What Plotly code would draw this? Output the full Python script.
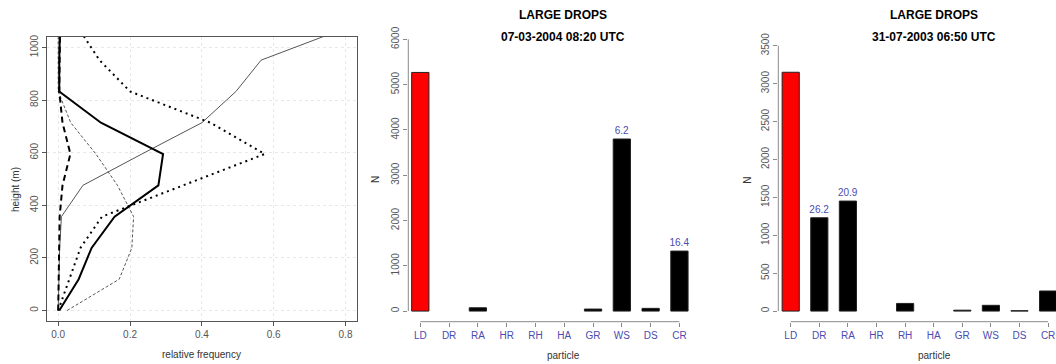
import plotly.graph_objects as go

W, H = 1056, 364

# ---------------- panel 1: vertical profiles ----------------
heights = [0, 119, 238, 357, 476, 595, 714, 833, 952, 1071]
freq_a = [0.003, 0.057, 0.093, 0.157, 0.279, 0.292, 0.119, 0.003, 0.003, 0.005]   # thick solid
freq_b = [0.0, 0.002, 0.004, 0.009, 0.069, 0.233, 0.400, 0.495, 0.565, 0.795]     # thin solid
freq_c = [0.0, 0.030, 0.062, 0.122, 0.350, 0.575, 0.424, 0.200, 0.115, 0.058]     # thick dotted
freq_d = [0.025, 0.170, 0.205, 0.210, 0.165, 0.105, 0.035, 0.0, 0.0, 0.0]         # thin dashed
freq_e = [0.0, 0.001, 0.002, 0.004, 0.012, 0.034, 0.012, 0.003, 0.004, 0.005]     # thick dashed
x_ticks1 = [0.0, 0.2, 0.4, 0.6, 0.8]
x_labels1 = ["0.0", "0.2", "0.4", "0.6", "0.8"]
y_ticks1 = [0, 200, 400, 600, 800, 1000]

# ---------------- panels 2 and 3: bar charts ----------------
particles = ["LD", "DR", "RA", "HR", "RH", "HA", "GR", "WS", "DS", "CR"]
n_2004 = [5270, 0, 73, 0, 0, 0, 45, 3800, 60, 1325]
pct_2004 = ["", "", "", "", "", "", "", "6.2", "", "16.4"]
n_2003 = [3150, 1231, 1451, 0, 101, 0, 12, 76, 5, 265]
pct_2003 = ["", "26.2", "20.9", "", "", "", "", "", "", ""]
y_ticks2 = [0, 1000, 2000, 3000, 4000, 5000, 6000]
y_ticks3 = [0, 500, 1000, 1500, 2000, 2500, 3000, 3500]
title_main = "LARGE DROPS"
title_2004 = "07-03-2004 08:20 UTC"
title_2003 = "31-07-2003 06:50 UTC"

FONT = "Liberation Sans, Arial, Helvetica, sans-serif"
BLUE = "#4b4bb0"
GREY = "#555555"
AX = "#8a8a8a"


def px(v):
    return v / W


def py(v):
    return 1 - v / H


fig = go.Figure()

profile_styles = [
    (freq_b, dict(color="#555555", width=1, dash="solid")),
    (freq_d, dict(color="#555555", width=1, dash="3px,2px")),
    (freq_c, dict(color="black", width=2, dash="2px,4px")),
    (freq_e, dict(color="black", width=2, dash="6px,4px")),
    (freq_a, dict(color="black", width=2, dash="solid")),
]
for vals, ln in profile_styles:
    fig.add_trace(go.Scatter(x=vals, y=heights, mode="lines", line=ln,
                             xaxis="x", yaxis="y", showlegend=False, hoverinfo="skip"))

bar_colors = ["red" if p == "LD" else "black" for p in particles]

for vals, pct, xa, ya in ((n_2004, pct_2004, "x2", "y2"), (n_2003, pct_2003, "x3", "y3")):
    fig.add_trace(go.Bar(x=particles, y=vals, width=0.6,
                         marker=dict(color=bar_colors,
                                     line=dict(color="#222", width=[1 if v > 0 else 0 for v in vals])),
                         text=pct, textposition="outside", cliponaxis=False, constraintext="none",
                         textfont=dict(color=BLUE, size=10, family=FONT),
                         xaxis=xa, yaxis=ya, showlegend=False, hoverinfo="skip"))

tickfont = dict(family=FONT, size=10, color=GREY)
common = dict(automargin=False, zeroline=False)

fig.update_layout(
    template="none",
    width=W, height=H, margin=dict(l=0, r=0, t=0, b=0, pad=0), autosize=False,
    paper_bgcolor="white", plot_bgcolor="white",
    font=dict(family=FONT, size=10, color="#333"),
    showlegend=False,
    xaxis=dict(domain=[px(46.7), px(357)], range=[-0.032, 0.832], tickvals=x_ticks1, ticktext=x_labels1,
               showline=True, mirror=True, linecolor="#555", linewidth=1,
               ticks="outside", ticklen=4, tickcolor="#555", tickfont=tickfont,
               showgrid=True, gridcolor="#e8e8e8", griddash="dot", gridwidth=1,
               anchor="y", **common),
    yaxis=dict(domain=[py(321), py(37)], range=[-40, 1040], tickvals=y_ticks1, tickangle=-90,
               showline=True, mirror=True, linecolor="#555", linewidth=1,
               ticks="outside", ticklen=4, tickcolor="#555", tickfont=tickfont,
               showgrid=True, gridcolor="#e8e8e8", griddash="dot", gridwidth=1,
               anchor="x", **common),
    xaxis2=dict(domain=[px(408.3), px(718.3)], type="category", range=[-0.417, 10.35],
                showline=False, showgrid=False,
                ticks="outside", ticklen=4, tickcolor=AX,
                tickfont=dict(family=FONT, size=10, color=BLUE), anchor="y2", **common),
    yaxis2=dict(domain=[py(321.7), py(35.1)], range=[-234.4, 6094.4], tickvals=y_ticks2, tickangle=-90,
                showline=False, showgrid=False,
                ticks="outside", ticklen=4, tickcolor=AX, tickfont=tickfont, anchor="x2", **common),
    xaxis3=dict(domain=[px(778.3), 1.0], type="category", range=[-0.434, 9.276],
                showline=False, showgrid=False,
                ticks="outside", ticklen=4, tickcolor=AX,
                tickfont=dict(family=FONT, size=10, color=BLUE), anchor="y3", **common),
    yaxis3=dict(domain=[py(321.7), py(35.1)], range=[-140, 3640], tickvals=y_ticks3, tickangle=-90,
                showline=False, showgrid=False,
                ticks="outside", ticklen=4, tickcolor=AX, tickfont=tickfont, anchor="x3", **common),
)

# R-style axis lines spanning only the tick range
shapes = []
for xa, ya, yt in (("x2", "y2", y_ticks2), ("x3", "y3", y_ticks3)):
    shapes.append(dict(type="line", xref=xa + " domain", yref=ya, x0=0, x1=0, y0=yt[0], y1=yt[-1],
                       line=dict(color=AX, width=1)))
    shapes.append(dict(type="line", xref=xa, yref=ya + " domain", x0=0, x1=len(particles) - 1, y0=0, y1=0,
                       line=dict(color=AX, width=1)))
fig.update_layout(shapes=shapes)

ann = []


def label(text, x, y, size=10, bold=False, angle=0, color="#333"):
    ann.append(dict(text=("<b>%s</b>" % text) if bold else text, x=x, y=y, xref="paper", yref="paper",
                    showarrow=False, xanchor="center", yanchor="middle", textangle=angle,
                    font=dict(family=FONT, size=size, color=color)))


label("relative frequency", px(201.7), py(354.3))
label("height (m)", px(15), py(190), angle=-90)
for cx, date in ((563.3, title_2004), (934.3, title_2003)):
    label(title_main, px(cx), py(15), size=12, bold=True, color="black")
    label(date, px(cx), py(36.7), size=12, bold=True, color="black")
    label("particle", px(cx), py(355))
label("N", px(375), py(180), angle=-90)
label("N", px(746.7), py(180), angle=-90)
fig.update_layout(annotations=ann)

fig.write_html("out.html", config={"displayModeBar": False},
               post_script="document.body.style.margin='0';document.body.style.overflow='hidden';")
